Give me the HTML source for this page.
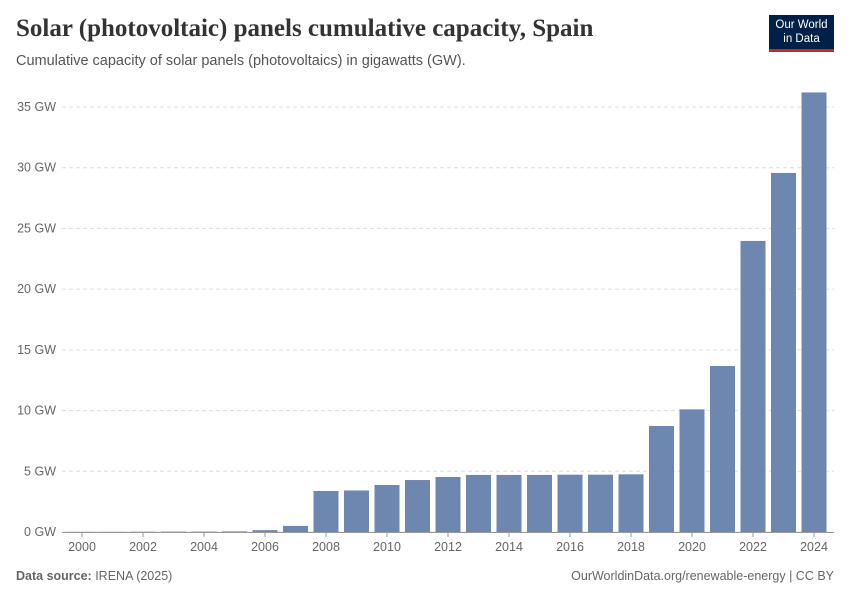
<!DOCTYPE html>
<html><head><meta charset="utf-8">
<style>
body{margin:0;background:#fff;font-family:"Liberation Sans",sans-serif;}
#wrap{position:relative;width:850px;height:600px;overflow:hidden;}
h1{position:absolute;left:16px;top:15px;margin:0;font-family:"Liberation Serif",serif;font-size:25px;font-weight:bold;color:#333;}
.sub{position:absolute;left:16px;top:53px;font-size:14.5px;color:#555;}
.logo{position:absolute;left:769px;top:15px;width:65px;height:37px;background:#002147;color:#fff;font-size:11.5px;text-align:center;line-height:14px;padding-top:3px;box-sizing:border-box;border-bottom:3px solid #ce261e;}
.foot{position:absolute;top:569px;font-size:12.5px;color:#666;}
</style></head><body>
<div id="wrap">
<h1>Solar (photovoltaic) panels cumulative capacity, Spain</h1>
<div class="sub">Cumulative capacity of solar panels (photovoltaics) in gigawatts (GW).</div>
<div class="logo">Our World<br>in Data</div>
<div class="foot" style="left:16px"><b>Data source:</b> IRENA (2025)</div>
<div class="foot" style="right:16px">OurWorldinData.org/renewable-energy | CC BY</div>
<svg id="chart" width="850" height="600" style="position:absolute;left:0;top:0"></svg>
</div>
<script>
const years=[2000,2001,2002,2003,2004,2005,2006,2007,2008,2009,2010,2011,2012,2013,2014,2015,2016,2017,2018,2019,2020,2021,2022,2023,2024];
const values=[0.01,0.01,0.02,0.03,0.03,0.05,0.15,0.5,3.38,3.42,3.87,4.28,4.53,4.7,4.7,4.7,4.72,4.72,4.75,8.73,10.1,13.67,23.97,29.57,36.2];
const yTicks=[0,5,10,15,20,25,30,35];
const xTicks=[2000,2002,2004,2006,2008,2010,2012,2014,2016,2018,2020,2022,2024];
const NS="http://www.w3.org/2000/svg";
const svg=document.getElementById('chart');
const y=v=>532-v*(425/35);
const x=yr=>82+(yr-2000)*30.5;
function mk(t,a){const e=document.createElementNS(NS,t);for(const k in a)e.setAttribute(k,a[k]);svg.appendChild(e);return e;}
yTicks.forEach(t=>{
  const l=mk('line',{x1:62,x2:834,y1:y(t),y2:y(t),stroke:'#ddd','stroke-dasharray':t?'4,3':'0'});
  
  
  const tx=mk('text',{x:56,y:y(t)+4,'text-anchor':'end','font-size':'12.5',fill:'#666','font-family':'Liberation Sans, sans-serif'});
  tx.textContent=t+' GW';
  
  
});
years.forEach((yr,i)=>{
  const r=mk('rect',{x:x(yr)-12.5,y:y(values[i]),width:25,height:532-y(values[i]),fill:'#6d87b0'});
  
  
});
const ax=mk('line',{x1:62,x2:834,y1:532.5,y2:532.5,stroke:'#999'});


xTicks.forEach(t=>{
  const tk=mk('line',{x1:x(t),x2:x(t),y1:532,y2:537,stroke:'#999'});
  
  
  const tx=mk('text',{x:x(t),y:551,'text-anchor':'middle','font-size':'12.5',fill:'#666','font-family':'Liberation Sans, sans-serif'});
  tx.textContent=t;
  
  
});
</script>
</body></html>
